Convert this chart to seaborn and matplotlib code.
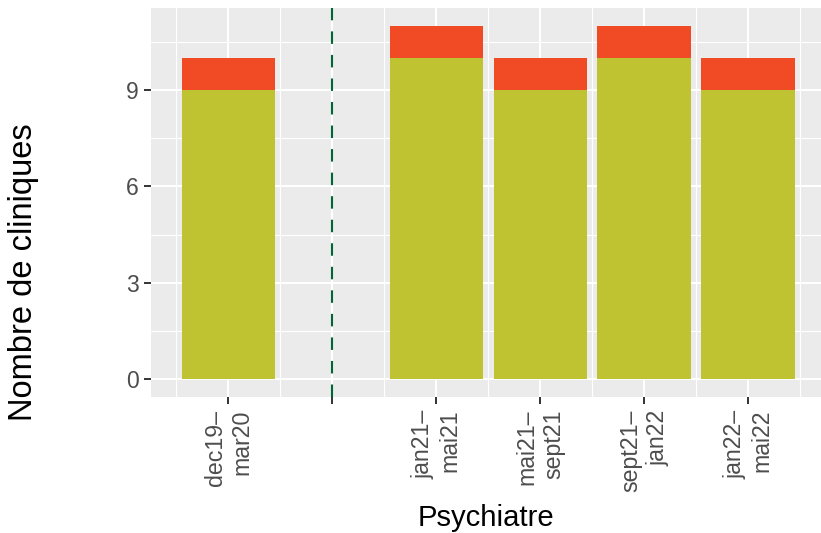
import numpy as np
import pandas as pd
import matplotlib
matplotlib.use("Agg")
import matplotlib.pyplot as plt
import seaborn as sns

# slots on the x axis (the empty one marks the break)
periodes = ["dec19–\nmar20", "", "jan21–\nmai21", "mai21–\nsept21", "sept21–\njan22", "jan22–\nmai22"]
periodes_barres = ["dec19–\nmar20", "jan21–\nmai21", "mai21–\nsept21", "sept21–\njan22", "jan22–\nmai22"]
n_vert = [9, 10, 9, 10, 9]
n_rouge = [1, 1, 1, 1, 1]
slot_coupure = ""

pos = {p: i + 1 for i, p in enumerate(periodes)}
df = pd.DataFrame({
    "periode": periodes_barres,
    "x": [pos[p] for p in periodes_barres],
    "vert": n_vert,
    "rouge": n_rouge,
})
df["total"] = df["vert"] + df["rouge"]

sns.set_theme(style="darkgrid", rc={
    "axes.facecolor": "#EBEBEB",
    "grid.color": "white",
    "axes.edgecolor": "#EBEBEB",
})
plt.rcParams["font.family"] = ["Liberation Sans", "DejaVu Sans"]

fig = plt.figure(figsize=(8.21, 5.33), dpi=100)
ax = fig.add_axes([151 / 821, (533 - 397) / 533, (821 - 151) / 821, (397 - 8) / 533])

sns.barplot(data=df, x="x", y="total", native_scale=True, width=0.9,
            color="#F04B24", saturation=1, linewidth=0, ax=ax, zorder=2)
sns.barplot(data=df, x="x", y="vert", native_scale=True, width=0.9,
            color="#BFC231", saturation=1, linewidth=0, ax=ax, zorder=3)

ax.axvline(pos[slot_coupure], color="#006633", lw=1.5, ls=(0, (6, 5.3)), zorder=4)

ax.set_xlim(0.255, 6.70)
ax.set_ylim(-0.55, 11.55)
ax.set_xticks(range(1, len(periodes) + 1))
ax.set_xticklabels(periodes, rotation=90, ha="center", va="top",
                   multialignment="right", fontsize=16.7, color="#4D4D4D")
ax.set_xticks(np.arange(0.5, len(periodes) + 1, 1), minor=True)
ax.set_yticks([0, 3, 6, 9])
ax.set_yticklabels(["0", "3", "6", "9"], fontsize=16.5, color="#4D4D4D")
ax.set_yticks([1.5, 4.5, 7.5, 10.5], minor=True)

ax.grid(which="major", color="white", lw=1.5)
ax.grid(which="minor", color="white", lw=0.8)
ax.set_axisbelow(True)
ax.tick_params(which="major", length=5, width=1.4, color="#333333", pad=4,
               bottom=True, left=True)
ax.tick_params(which="minor", length=0)
for s in ax.spines.values():
    s.set_visible(False)

ax.set_xlabel("Psychiatre", fontsize=21.1, color="black", labelpad=9)
ax.set_ylabel("Nombre de cliniques", fontsize=23.5, color="black")
ax.yaxis.set_label_coords(-0.167, 0.32)

fig.savefig("out.png", dpi=100)
